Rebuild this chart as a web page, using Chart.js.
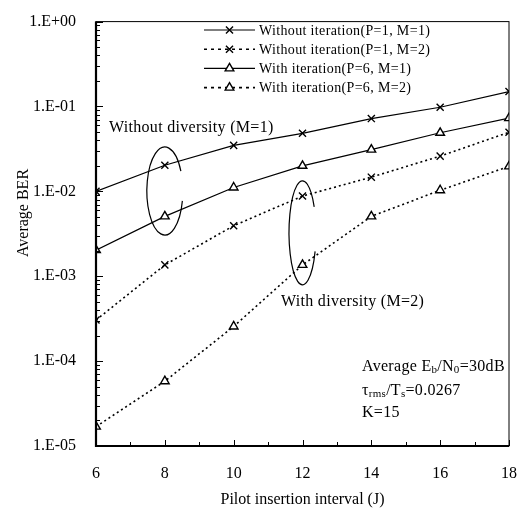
<!DOCTYPE html>
<html>
<head>
<meta charset="utf-8">
<script src="https://cdn.jsdelivr.net/npm/chart.js@4"></script>
<style>
  html, body { margin: 0; padding: 0; background: #fff; }
  #wrap { width: 527px; height: 509px; }
</style>
</head>
<body>
<div id="wrap"><canvas id="berChart" width="527" height="509"></canvas></div>
<script>
const intervals = [6, 8, 10, 12, 14, 16, 18];
const noIterM1 = [0.0100, 0.0203, 0.0348, 0.0483, 0.0720, 0.098, 0.150];
const noIterM2 = [0.000305, 0.00136, 0.00394, 0.0088, 0.0147, 0.026, 0.0497];
const iterM1 = [0.00203, 0.00507, 0.0111, 0.0200, 0.0310, 0.049, 0.073];
const iterM2 = [0.0000169, 0.000058, 0.000256, 0.00136, 0.00507, 0.0103, 0.0197];
const seriesNames = [
  'Without iteration(P=1, M=1)',
  'Without iteration(P=1, M=2)',
  'With iteration(P=6, M=1)',
  'With iteration(P=6, M=2)'
];
const yDecades = [1e-5, 1e-4, 1e-3, 1e-2, 1e-1, 1];

const FONT = '"Liberation Serif", "Times New Roman", serif';

function pts(vals) {
  return intervals.map((x, i) => ({ x: x, y: vals[i] }));
}

function makeSet(label, vals, marker, dotted) {
  return {
    label: label,
    data: pts(vals),
    borderColor: '#000',
    backgroundColor: '#fff',
    borderWidth: dotted ? 1.6 : 1.2,
    borderDash: dotted ? [2, 3] : [],
    pointStyle: marker,
    pointRadius: 5,
    pointBorderWidth: 1.4,
    pointBorderColor: '#000',
    pointBackgroundColor: '#fff',
    tension: 0
  };
}

// tick marks inside, frame, legend, ellipses and notes
const decorations = {
  id: 'decorations',
  afterDatasetsDraw(chart) {
    const ctx = chart.ctx;
    const a = chart.chartArea;
    const xs = chart.scales.x;
    const ys = chart.scales.y;
    ctx.save();
    ctx.strokeStyle = '#000';
    ctx.fillStyle = '#000';

    // frame
    ctx.lineWidth = 1;
    ctx.strokeRect(a.left, a.top, a.right - a.left, a.bottom - a.top);
    ctx.lineWidth = 2.2;
    ctx.beginPath();
    ctx.moveTo(a.left, a.top);
    ctx.lineTo(a.left, a.bottom);
    ctx.lineTo(a.right, a.bottom);
    ctx.stroke();

    // x ticks, minor every 1
    ctx.lineWidth = 1;
    for (let v = 6; v <= 18; v++) {
      const px = Math.round(xs.getPixelForValue(v)) + 0.5;
      const len = (v % 2 === 0) ? 6 : 4;
      ctx.beginPath();
      ctx.moveTo(px, a.bottom);
      ctx.lineTo(px, a.bottom - len);
      ctx.stroke();
    }
    // y ticks, log minors
    for (let d = 0; d < yDecades.length; d++) {
      const base = yDecades[d];
      for (let m = 1; m <= 9; m++) {
        const v = base * m;
        if (v > 1.0000001) break;
        const py = Math.round(ys.getPixelForValue(v)) + 0.5;
        const len = m === 1 ? 7 : 4;
        ctx.beginPath();
        ctx.moveTo(a.left, py);
        ctx.lineTo(a.left + len, py);
        ctx.stroke();
      }
    }

    // y title
    ctx.save();
    ctx.translate(24, 213);
    ctx.rotate(-Math.PI / 2);
    ctx.font = '16px ' + FONT;
    ctx.textAlign = 'center';
    ctx.textBaseline = 'middle';
    ctx.fillText('Average BER', 0, 0);
    ctx.restore();

    // legend
    const lx0 = 204, lx1 = 255, ly0 = 30, lstep = 19.2;
    ctx.font = '14px ' + FONT;
    ctx.letterSpacing = '0.35px';
    ctx.textBaseline = 'middle';
    chart.data.datasets.forEach((ds, i) => {
      const y = ly0 + i * lstep;
      ctx.save();
      ctx.lineWidth = ds.borderWidth;
      ctx.setLineDash(ds.borderDash.length ? [3, 4] : []);
      ctx.beginPath();
      ctx.moveTo(lx0, y);
      ctx.lineTo(lx1, y);
      ctx.stroke();
      ctx.restore();
      ctx.save();
      ctx.lineWidth = 1.4;
      ctx.fillStyle = '#fff';
      Chart.helpers.drawPoint(ctx, {
        pointStyle: ds.pointStyle, radius: 5, rotation: 0, borderWidth: 1.4
      }, (lx0 + lx1) / 2, y);
      ctx.restore();
      ctx.fillStyle = '#000';
      ctx.fillText(ds.label, 259, y + 1);
    });

    // ellipses grouping the curves
    ctx.lineWidth = 1.2;
    const e1x = xs.getPixelForValue(8), e1y = ys.getPixelForValue(0.0101);
    ctx.beginPath();
    ctx.ellipse(e1x, e1y, 18, 44, 0, 13 * Math.PI / 180, 333 * Math.PI / 180);
    ctx.stroke();
    const e2x = xs.getPixelForValue(12), e2y = ys.getPixelForValue(0.00325);
    ctx.beginPath();
    ctx.ellipse(e2x, e2y, 13.5, 52, 0, 21 * Math.PI / 180, 330 * Math.PI / 180);
    ctx.stroke();

    // annotations
    ctx.font = '16px ' + FONT;
    ctx.letterSpacing = '0.3px';
    ctx.textAlign = 'left';
    ctx.fillText('Without diversity (M=1)', 109, 128);
    ctx.fillText('With diversity (M=2)', 281, 302);

    function runs(parts, x, y) {
      parts.forEach(p => {
        ctx.font = (p.sub ? '11px ' : '16px ') + FONT;
        ctx.fillText(p.t, x, y + (p.sub ? 3 : 0));
        x += ctx.measureText(p.t).width;
      });
    }
    runs([{ t: 'Average E' }, { t: 'b', sub: true }, { t: '/N' }, { t: '0', sub: true }, { t: '=30dB' }], 362, 367);
    runs([{ t: 'τ' }, { t: 'rms', sub: true }, { t: '/T' }, { t: 's', sub: true }, { t: '=0.0267' }], 362, 391);
    runs([{ t: 'K=15' }], 362, 413);

    ctx.restore();
  }
};

new Chart(document.getElementById('berChart'), {
  type: 'line',
  data: {
    datasets: [
      makeSet(seriesNames[0], noIterM1, 'crossRot', false),
      makeSet(seriesNames[1], noIterM2, 'crossRot', true),
      makeSet(seriesNames[2], iterM1, 'triangle', false),
      makeSet(seriesNames[3], iterM2, 'triangle', true)
    ]
  },
  options: {
    responsive: false,
    animation: false,
    layout: { padding: { top: 14, right: 15, left: 0, bottom: 0 } },
    plugins: { legend: { display: false }, tooltip: { enabled: false } },
    scales: {
      x: {
        type: 'linear',
        min: 6,
        max: 18,
        grid: { display: false },
        border: { display: false },
        afterBuildTicks: s => { s.ticks = intervals.map(v => ({ value: v })); },
        afterFit: s => { s.height = 63; },
        ticks: {
          color: '#000',
          padding: 10,
          font: { family: FONT, size: 16 },
          maxRotation: 0
        },
        title: {
          display: true,
          text: 'Pilot insertion interval (J)',
          color: '#000',
          font: { family: FONT, size: 16 },
          padding: { top: 4, bottom: 0 }
        }
      },
      y: {
        type: 'logarithmic',
        min: 1e-5,
        max: 1,
        grid: { display: false },
        border: { display: false },
        afterBuildTicks: s => { s.ticks = yDecades.map(v => ({ value: v })); },
        afterFit: s => { s.width = 96; },
        ticks: {
          color: '#000',
          padding: 12,
          font: { family: FONT, size: 16 },
          callback: v => {
            const e = Math.round(Math.log10(v));
            return '1.E' + (e < 0 ? '-' : '+') + String(Math.abs(e)).padStart(2, '0');
          }
        },
        title: { display: false }
      }
    }
  },
  plugins: [decorations]
});
</script>
</body>
</html>
